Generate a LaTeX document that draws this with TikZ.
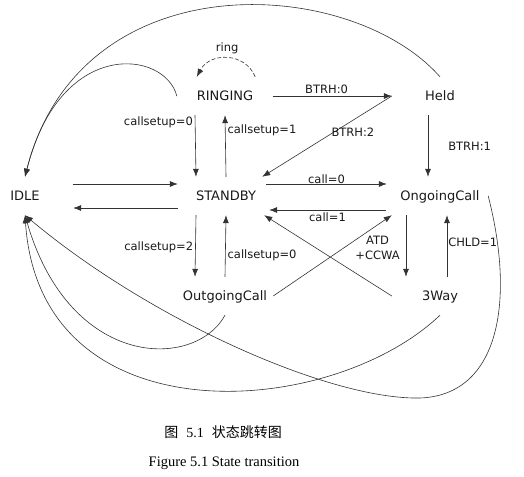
\documentclass[tikz,border=0pt]{standalone}
\usepackage{fontspec}
\setmainfont{Liberation Serif}
\setsansfont{DejaVu Sans}
\newfontfamily\cjkfont{Noto Sans CJK SC}
\usepackage[svgnames]{xcolor}
\usepackage{tikz}
\usetikzlibrary{
  arrows.meta
}
\tikzset{
  statenode/.style={font=\sffamily\fontsize{13}{15}\selectfont,text=black!90,
    minimum width=96pt,minimum height=38pt,inner sep=0pt,text height=9.5pt,text depth=0pt},
  lbl/.style={font=\sffamily\fontsize{11.5}{15}\selectfont,text=black!90,inner sep=2pt},
  trans/.style={draw=wire,line width=0.6pt,-{Latex[length=8pt,width=6pt]}},
}
\colorlet{wire}{black!80}

\begin{document}
\begin{tikzpicture}[x=1pt,y=-1pt]
\useasboundingbox (0,0) rectangle (524,476);

\node[statenode] (idle) at (25,196) {IDLE};
\node[statenode] (standby) at (226,196) {STANDBY};
\node[statenode] (ringing) at (225,96) {RINGING};
\node[statenode] (held) at (440,96) {Held};
\node[statenode] (ongoing) at (440,196) {OngoingCall};
\node[statenode] (outgoing) at (225,296) {OutgoingCall};
\node[statenode] (threeway) at (440,296) {3Way};

\draw[trans,dash pattern=on 4pt off 2pt] ([xshift=-18pt]ringing.north east) .. controls (245,52) and (210,52) .. node[lbl,pos=0.5,above=2pt] (l-ring) {ring} ([xshift=20pt]ringing.north west);

\draw[trans] ([xshift=-30pt]ringing.south) -- node[lbl,pos=0.12,left] (l-cs0a) {callsetup=0} ([xshift=-30pt]standby.north);
\draw[trans] (standby.north) -- node[lbl,pos=0.76,right] (l-cs1) {callsetup=1} (ringing.south);
\draw[trans] (ringing.east) -- node[lbl,pos=0.45,above] (l-b0) {BTRH:0} (held.west);
\draw[trans] (held.west) -- node[lbl,pos=0.3,below=5pt] (l-b2) {BTRH:2} ([xshift=-12pt]standby.north east);
\draw[trans] ([xshift=-12pt]held.south) -- node[lbl,pos=0.5,right=18pt] (l-b1) {BTRH:1} ([xshift=-12pt]ongoing.north);

\draw[trans] ([yshift=12pt]idle.east) -- ([yshift=12pt]standby.west);
\draw[trans] ([yshift=-12pt]standby.west) -- ([yshift=-12pt]idle.east);
\draw[trans] ([xshift=-8pt,yshift=12pt]standby.east) -- node[lbl,pos=0.5,above,inner sep=0pt] (l-c0) {call=0} ([xshift=-5pt,yshift=12pt]ongoing.west);
\draw[trans] ([xshift=-6pt,yshift=-14pt]ongoing.west) -- node[lbl,pos=0.5,below] (l-c1) {call=1} ([xshift=-5pt,yshift=-14pt]standby.east);

\draw[trans] ([xshift=-30pt]standby.south) -- node[lbl,pos=0.52,left] (l-cs2) {callsetup=2} ([xshift=-30pt]outgoing.north);
\draw[trans] (outgoing.north) -- node[lbl,pos=0.35,right] (l-cs0b) {callsetup=0} (standby.south);
\draw[trans] (outgoing.east) -- node[lbl,pos=0.59,right=10pt,align=center] (l-atd) {ATD\\+CCWA} (ongoing.south west);
\draw[trans] (threeway.west) -- ([xshift=-10pt]standby.south east);
\draw[trans] ([xshift=-34pt]ongoing.south) -- ([xshift=-34pt]threeway.north);
\draw[trans] ([xshift=7pt]threeway.north) -- node[lbl,pos=0.56,right,inner sep=1pt] (l-chld) {CHLD=1} ([xshift=7pt]ongoing.south);

\draw[trans] (held.north) .. controls (350,-25) and (80,-40) .. (idle.north);
\draw[trans] (ringing.west) .. controls (165,50) and (60,37) .. (idle.north);
\draw[trans] (outgoing.south) .. controls (195,370) and (70,370) .. (idle.south);
\draw[trans] (threeway.south) .. controls (330,420) and (40,440) .. (idle.south);
\draw[trans] (ongoing.east) .. controls (515,300) and (500,395) .. (420,398) .. controls (330,400) and (150,320) .. (idle.south);

\node[font=\cjkfont\fontsize{14}{16}\selectfont] (cap-zh) at (223,432) {图\hspace{8pt}{\rmfamily 5.1}\hspace{8pt}状态跳转图};
\node[font=\rmfamily\fontsize{14.5}{16}\selectfont] (cap-en) at (224,463) {Figure 5.1 State transition};
\end{tikzpicture}
\end{document}
